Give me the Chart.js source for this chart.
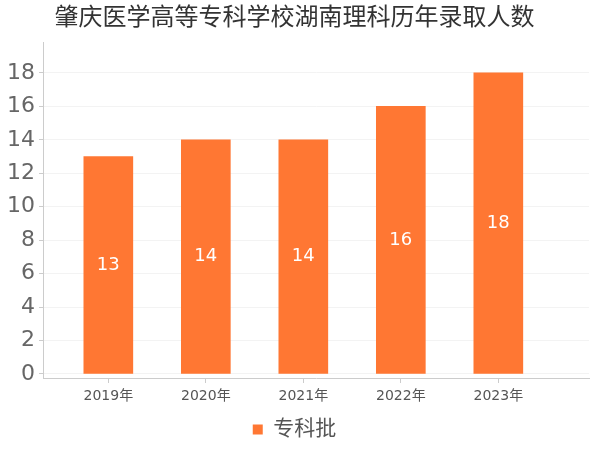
<!DOCTYPE html>
<html>
<head>
<meta charset="utf-8">
<script src="https://cdn.jsdelivr.net/npm/chart.js@4/dist/chart.umd.min.js"></script>
<style>
html,body{margin:0;padding:0;background:#fff;}
#wrap{width:600px;height:450px;}
</style>
</head>
<body>
<div id="wrap"><canvas id="c" width="600" height="450"></canvas></div>
<script>
const categories = ['2019年', '2020年', '2021年', '2022年', '2023年'];
const seriesName = '专科批';
const values = [13, 14, 14, 16, 18];
const yTicks = [0, 2, 4, 6, 8, 10, 12, 14, 16, 18];
const titleText = '肇庆医学高等专科学校湖南理科历年录取人数';

const FONT = "'DejaVu Sans', 'Noto Sans CJK SC', sans-serif";
const BAR = '#FF7733';

const barLabels = {
  id: 'barLabels',
  afterDatasetsDraw(chart) {
    const ctx = chart.ctx;
    const meta = chart.getDatasetMeta(0);
    ctx.save();
    ctx.fillStyle = '#ffffff';
    ctx.font = "18px " + FONT;
    ctx.textAlign = 'center';
    ctx.textBaseline = 'middle';
    meta.data.forEach((el, i) => {
      const yMid = (el.y + el.base) / 2;
      ctx.fillText(String(values[i]), el.x, yMid);
    });
    ctx.restore();
  }
};

new Chart(document.getElementById('c'), {
  type: 'bar',
  data: {
    datasets: [{
      label: seriesName,
      data: values.map((v, i) => ({x: i, y: v})),
      backgroundColor: BAR,
      borderWidth: 0,
      barThickness: 49
    }]
  },
  options: {
    responsive: false,
    animation: false,
    layout: {padding: {left: 0, right: 11, top: 0, bottom: 0}},
    plugins: {
      title: {
        display: true,
        text: titleText,
        color: '#333333',
        font: {family: FONT, size: 24, weight: 'normal'},
        padding: {top: 4, bottom: 10}
      },
      legend: {
        display: true,
        position: 'bottom',
        labels: {
          color: '#555555',
          font: {family: FONT, size: 21},
          boxWidth: 10,
          boxHeight: 10,
          padding: 6
        }
      },
      tooltip: {enabled: false}
    },
    scales: {
      x: {
        type: 'linear',
        offset: false,
        min: -0.67,
        max: 4.93,
        afterBuildTicks(scale) {
          scale.ticks = categories.map((c, i) => ({value: i}));
        },
        afterFit(scale) { scale.height = 35; },
        ticks: {
          color: '#555555',
          font: {family: FONT, size: 14},
          padding: 5,
          maxRotation: 0,
          autoSkip: false,
          callback: (v) => categories[v]
        },
        grid: {display: true, offset: false, drawOnChartArea: false, drawTicks: true, tickLength: 5, tickColor: '#cccccc'},
        border: {display: true, color: '#cccccc'}
      },
      y: {
        min: -0.24,
        max: 19.8,
        afterBuildTicks(scale) {
          scale.ticks = yTicks.map(v => ({value: v}));
        },
        afterFit(scale) { scale.width = 43; },
        ticks: {
          color: '#666666',
          font: {family: FONT, size: 22},
          padding: 4
        },
        grid: {color: '#f3f3f3', tickLength: 4, tickColor: '#cccccc'},
        border: {display: true, color: '#cccccc'}
      }
    }
  },
  plugins: [barLabels]
});
</script>
</body>
</html>
